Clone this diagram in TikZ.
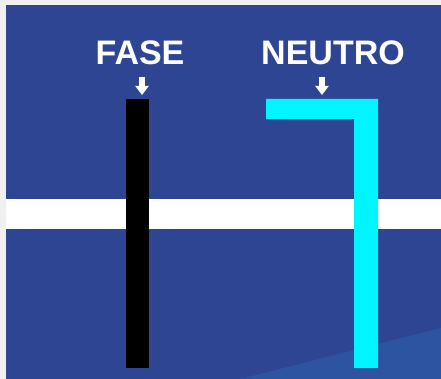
\documentclass[tikz,border=0pt]{standalone}
\usepackage{fontspec}
\setmainfont{Liberation Sans}
\usetikzlibrary{arrows.meta}
\definecolor{panelblue}{RGB}{46,69,148}
\definecolor{wedgeblue}{RGB}{44,84,160}
\definecolor{frame}{RGB}{240,240,240}
\definecolor{neutrocyan}{RGB}{0,245,255}
\begin{document}
\begin{tikzpicture}[x=1pt,y=-1pt,>={Triangle[width=13pt,length=9pt]},
  label/.style={text=white,font=\bfseries\fontsize{34}{34}\selectfont,inner sep=0pt,anchor=base},
  pointer/.style={->,draw=white,line width=6pt}]
  % frame and panel
  \fill[frame] (0,0) rectangle (441,379);
  \fill[panelblue] (6,5) rectangle (441,379);
  \fill[wedgeblue] (240,379) -- (441,328) -- (441,379) -- cycle;
  % white band
  \fill[white] (6,199) rectangle (441,229);
  % wires
  \fill[black] (126,99) rectangle (149,368);
  \fill[neutrocyan] (266,99) -- (378,99) -- (378,368) -- (354,368) -- (354,119) -- (266,119) -- cycle;
  % labels
  \node[label] (fase) at (140,65) {FASE};
  \node[label] (neutro) at (333,65) {NEUTRO};
  \coordinate (faseTop) at (142,95);
  \coordinate (neutroTop) at (322,95);
  \draw[pointer] (142,77) -- (faseTop);
  \draw[pointer] (322,77) -- (neutroTop);
\end{tikzpicture}
\end{document}
